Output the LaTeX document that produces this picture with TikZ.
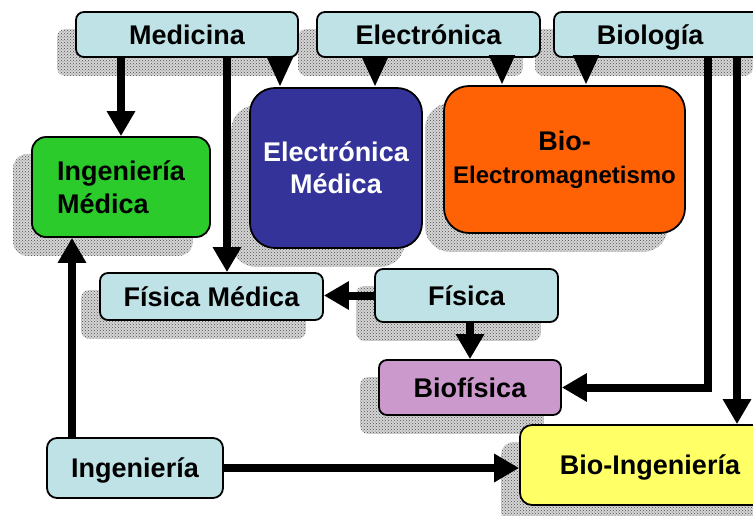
\documentclass[tikz,border=0pt]{standalone}
\usepackage{fontspec}
\setmainfont{Liberation Sans}
\usetikzlibrary{arrows.meta,patterns,calc}

\definecolor{lblue}{HTML}{BFE2E7}
\definecolor{mgreen}{HTML}{2CCB2C}
\definecolor{navy}{HTML}{33339A}
\definecolor{orng}{HTML}{FF6204}
\definecolor{lilac}{HTML}{CC99CC}
\definecolor{lyellow}{HTML}{FFFF66}

\pgfdeclarelayer{background}
\pgfsetlayers{background,main}

\tikzset{
  box/.style={draw=black, line width=1.8pt, rounded corners=8pt, inner sep=0pt,
    font=\bfseries\fontsize{27}{33}\selectfont, align=center},
  oneline/.style={text height=19.4pt, text depth=0pt},
  lbox/.style={box, oneline, fill=lblue},
  arr/.style={line width=8pt, -{Triangle[width=27pt,length=25pt]}},
  stub/.style={line width=8pt, -{Triangle[width=24pt,length=30pt]}},
  shade/.style={fill=gray!32, postaction={pattern=crosshatch dots, pattern color=gray!60!black}},
}

\begin{document}
\begin{tikzpicture}[x=1pt,y=-1pt]
\useasboundingbox (0,0) rectangle (753,515);
\clip (0,0) rectangle (753,515);

% top row
\node[lbox, minimum width=222pt, minimum height=45pt] (medicina) at (187,34.5) {Medicina};
\node[lbox, minimum width=223pt, minimum height=45pt] (electronica) at (428.5,34.5) {Electrónica};
\node[lbox, minimum width=216pt, minimum height=45pt] (biologia) at (662,34.5) {\hspace*{-24pt}Biología};

% middle row
\node[box, fill=mgreen, rounded corners=14pt, minimum width=178pt, minimum height=100pt, align=left]
  (ingmed) at (121,187) {Ingeniería\\Médica};
\node[box, fill=navy, text=white, rounded corners=25pt, minimum width=172pt, minimum height=160pt,
  font=\bfseries\fontsize{27}{32}\selectfont] (elecmed) at (336,168) {Electrónica\\Médica};
\node[box, fill=orng, rounded corners=25pt, minimum width=241pt, minimum height=147pt]
  (bioem) at (564.5,159.5) {\fontsize{27}{31}\selectfont Bio-\\\fontsize{24}{31}\selectfont Electromagnetismo};

% lower rows
\node[lbox, minimum width=223pt, minimum height=47pt] (fismed) at (211.5,296.5) {Física Médica};
\node[lbox, minimum width=183pt, minimum height=53pt] (fisica) at (466.5,295.5) {Física};
\node[box, oneline, fill=lilac, minimum width=182pt, minimum height=55pt] (biofisica) at (470,387.5) {Biofísica};
\node[lbox, rounded corners=10pt, minimum width=176pt, minimum height=60pt] (ingenieria) at (135,468) {Ingeniería};
\node[box, oneline, fill=lyellow, rounded corners=12pt, minimum width=260pt, minimum height=80pt] (bioing) at (650,465) {Bio-Ingeniería};

% white page and stippled drop shadows behind the boxes
\begin{pgfonlayer}{background}
  \fill[white] (0,0) rectangle (753,515);
  \foreach \n/\r in {medicina/8,electronica/8,biologia/8,ingmed/14,elecmed/25,bioem/25,fismed/8,fisica/8,biofisica/8,bioing/12}{
    \path[shade, rounded corners=\r pt]
      ($(\n.south west)+(-18,18)$) rectangle ($(\n.north east)+(-18,18)$);
  }
\end{pgfonlayer}

% connectors
\draw[arr] (medicina.south -| ingmed.north) -- (ingmed.north);

\coordinate (a2) at ($(fismed.north)+(15.5,0)$);
\draw[arr] (medicina.south -| a2) -- (a2);

\coordinate (a3) at ($(elecmed.north)+(-56,0)$);
\draw[stub] (medicina.south -| a3) -- (a3);

\coordinate (a4) at ($(elecmed.north)+(39,0)$);
\draw[stub] (electronica.south -| a4) -- (a4);

\coordinate (a5) at ($(bioem.north)+(-62.5,0)$);
\draw[stub] (electronica.south -| a5) -- (a5);

\coordinate (a6) at ($(bioem.north)+(21.5,0)$);
\draw[stub] (biologia.south -| a6) -- (a6);

\coordinate (a7) at ($(biologia.south)+(46,0)$);
\draw[arr] (a7) |- (biofisica.east);

\coordinate (a8) at ($(biologia.south)+(75,0)$);
\draw[arr] (a8) -- (a8 |- bioing.north);

\draw[arr] (fisica.west) -- (fisica.west -| fismed.east);
\draw[arr] (fisica.south -| biofisica.north) -- (biofisica.north);

\coordinate (a11) at ($(ingmed.south)+(-49,0)$);
\draw[arr] (ingenieria.north -| a11) -- (a11);

\draw[arr] (ingenieria.east) -- (ingenieria.east -| bioing.west);
\end{tikzpicture}
\end{document}
